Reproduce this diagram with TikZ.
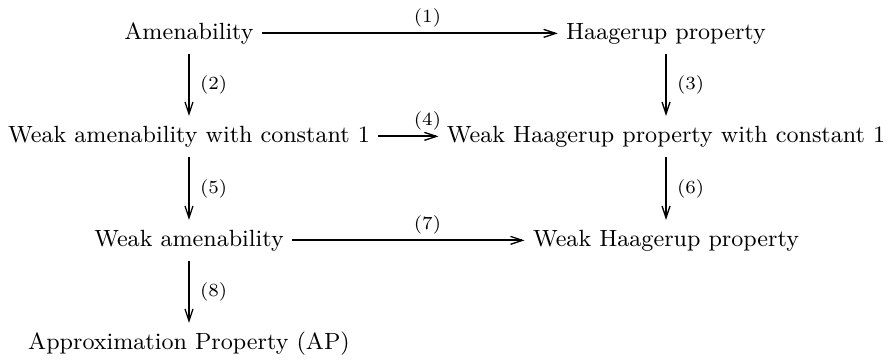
\documentclass[tikz,border=0pt]{standalone}
\usetikzlibrary{arrows.meta,calc}

\begin{document}
\begin{tikzpicture}[x=0.3774pt,y=-0.3774pt,
    >={Straight Barb[length=4.5pt,width=3pt,line width=0.5pt]}]
  \useasboundingbox (0,0) rectangle (886,360);

        \begin{scope}[every node/.style={font=\fontsize{8.85}{11}\selectfont, anchor=base, inner sep=3pt, text height=7pt, text depth=2pt}]
          \node (amen) at (189,40)  {Amenability};
          \node (haag) at (666,40)  {Haagerup property};
          \node (wa1)  at (189,143) {Weak amenability with constant 1};
          \node (wh1)  at (666,143) {Weak Haagerup property with constant 1};
          \node (wa)   at (189,247) {Weak amenability};
          \node (wh)   at (666,247) {Weak Haagerup property};
          \node (ap)   at (189,350) {Approximation Property (AP)};
        \end{scope}

        \begin{scope}[every node/.style={font=\scriptsize, inner sep=1pt}]

          \begin{scope}[every edge/.style={draw, ->, line width=0.75pt}]
            \path (amen) edge (haag);
            \path (wa1)  edge (wh1);
            \path (wa)   edge (wh);
            \path (amen) edge node[right=2.8pt] (l2) {$(2)$} (wa1);
            \path (haag) edge node[right=2.8pt] (l3) {$(3)$} (wh1);
            \path (wa1)  edge node[right=2.8pt] (l5) {$(5)$} (wa);
            \path (wh1)  edge node[right=2.8pt] (l6) {$(6)$} (wh);
            \path (wa)   edge node[right=2.8pt] (l8) {$(8)$} (ap);
          \end{scope}

          \node[above=1.3pt] (l1) at ($(amen)!.5!(haag)$) {$(1)$};
          \node[above=1.3pt] (l4) at ($(wa1)!.5!(wh1)$)   {$(4)$};
          \node[above=1.3pt] (l7) at ($(wa)!.5!(wh)$)     {$(7)$};
        \end{scope}

      \end{tikzpicture}
\end{document}
